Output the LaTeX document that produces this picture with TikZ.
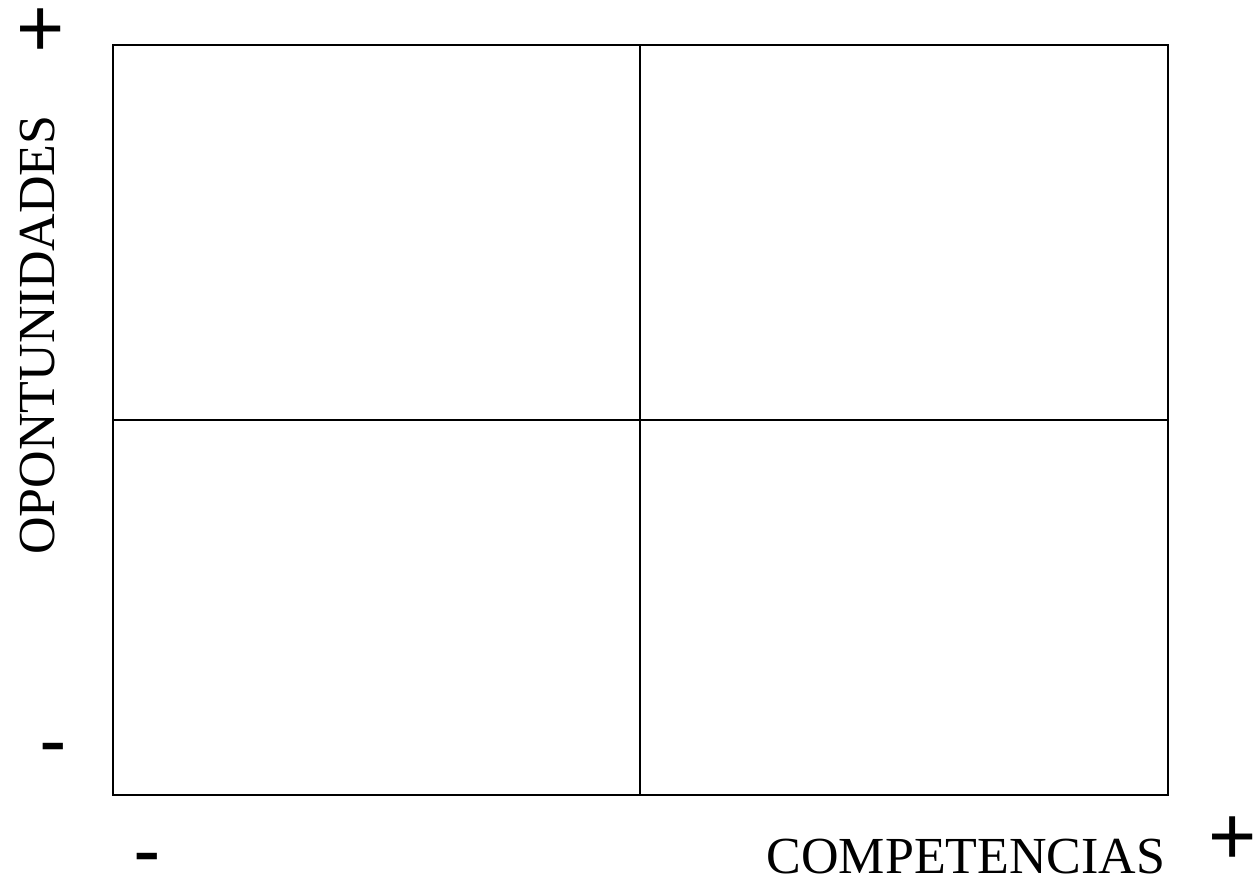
\documentclass[tikz,border=0pt]{standalone}
\usepackage{fontspec}
\setmainfont{Liberation Serif}
\newfontfamily\signfont{Liberation Sans}
\begin{document}
\begin{tikzpicture}[x=0.75pt,y=-0.75pt,
  gridline/.style={line width=1.5pt,black},
  axislabel/.style={inner sep=0pt,font=\fontsize{39}{39}\selectfont},
  signlabel/.style={inner sep=0pt,anchor=base,font=\signfont\fontsize{62}{62}\selectfont}]
\useasboundingbox (0,0) rectangle (1260,885);
\coordinate (tl) at (113,45);
\coordinate (br) at (1168,795);
\coordinate (tm) at (640,45);
\coordinate (bm) at (640,795);
\coordinate (ml) at (113,420);
\coordinate (mr) at (1168,420);
\draw[gridline] (tl) rectangle (br);
\draw[gridline] (tm) -- (bm);
\draw[gridline] (ml) -- (mr);
\node[axislabel,rotate=90] (opo) at (38,335) {OPONTUNIDADES};
\node[axislabel] (comp) at (966,857) {COMPETENCIAS};
\node[signlabel] (yplus) at (40.5,56) {+};
\node[signlabel] (yminus) at (53,768) {-};
\node[signlabel] (xminus) at (147,878) {-};
\node[signlabel] (xplus) at (1233,864) {+};
\end{tikzpicture}
\end{document}
